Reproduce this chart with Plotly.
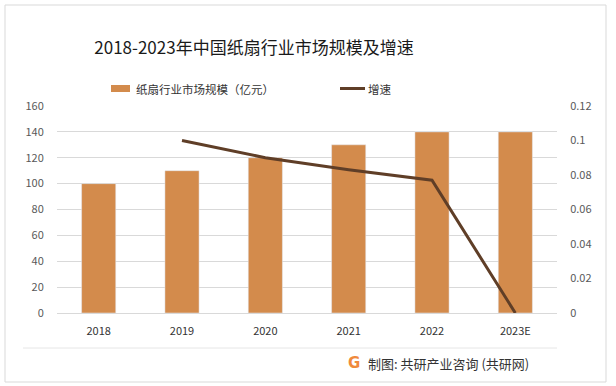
import plotly.graph_objects as go

years = ["2018", "2019", "2020", "2021", "2022", "2023E"]
market_size = [100, 110, 120, 130, 140, 140]
growth_years = ["2019", "2020", "2021", "2022", "2023E"]
growth = [0.1, 0.09, 0.083, 0.077, 0.0]
left_ticks = [0, 20, 40, 60, 80, 100, 120, 140, 160]
right_ticks = [0, 0.02, 0.04, 0.06, 0.08, 0.1, 0.12]
right_tick_text = ["0", "0.02", "0.04", "0.06", "0.08", "0.1", "0.12"]

W, H = 616, 386
L, R, T, B = 57, 59, 106, 73
PW, PH = W - L - R, H - T - B

def px(x):
    return (x - L) / PW

def py(y):
    return (H - B - y) / PH

font = "Microsoft YaHei, Noto Sans CJK SC, sans-serif"
clear = "rgba(0,0,0,0)"

fig = go.Figure()
fig.add_trace(go.Bar(
    x=years, y=market_size, name="纸扇行业市场规模（亿元）",
    marker=dict(color="#D38B4C"), width=0.41, yaxis="y", showlegend=False,
))
fig.add_trace(go.Scatter(
    x=growth_years, y=growth, name="增速", mode="lines",
    line=dict(color="#5F3E27", width=3), yaxis="y2", showlegend=False,
))
fig.add_annotation(
    x="2022", y=growth[3], xref="x", yref="y2", text="7.7%",
    showarrow=False, xanchor="left", yanchor="middle", xshift=8, yshift=-1,
    font=dict(size=11, color="#404040"),
)

shapes = [
    dict(type="rect", xref="paper", yref="paper",
         x0=px(5), x1=px(606), y0=py(382), y1=py(5),
         line=dict(color="#D9D9D9", width=1), fillcolor=clear, layer="below"),
    dict(type="line", xref="paper", yref="paper",
         x0=px(23), x1=px(557), y0=py(348), y1=py(348),
         line=dict(color="#E6E6E6", width=1)),
    # legend swatches
    dict(type="rect", xref="paper", yref="paper",
         x0=px(111), x1=px(130), y0=py(92), y1=py(85),
         line=dict(width=0), fillcolor="#D38B4C"),
    dict(type="line", xref="paper", yref="paper",
         x0=px(340), x1=px(365), y0=py(88.5), y1=py(88.5),
         line=dict(color="#5F3E27", width=3)),
]

fig.update_layout(
    width=W, height=H,
    margin=dict(l=L, r=R, t=T, b=B),
    paper_bgcolor="white", plot_bgcolor="white",
    font=dict(family=font, color="#595959", size=11),
    title=dict(text="2018-2023年中国纸扇行业市场规模及增速", x=254 / W, xanchor="center",
               y=1 - 48 / H, yanchor="middle",
               font=dict(size=17, color="#1a1a1a", family=font)),
    showlegend=False,
    xaxis=dict(type="category", categoryorder="array", categoryarray=years,
               range=[-0.5, 5.5], showgrid=False, showline=True, linecolor="#D9D9D9",
               linewidth=1, ticks="outside", ticklen=8, tickcolor=clear,
               tickfont=dict(size=11, color="#333333")),
    yaxis=dict(range=[0, 160], tickvals=left_ticks, showgrid=True, gridcolor="#D9D9D9",
               gridwidth=1, zeroline=False, ticks="outside", ticklen=10, tickcolor=clear,
               tickfont=dict(size=11, color="#595959")),
    yaxis2=dict(range=[0, 0.12], tickvals=right_ticks, ticktext=right_tick_text,
                overlaying="y", side="right", showgrid=False, zeroline=False,
                ticks="outside", ticklen=10, tickcolor=clear,
                tickfont=dict(size=11, color="#595959")),
    shapes=shapes,
)

fig.add_annotation(xref="paper", yref="paper", x=px(134), y=py(88.5),
                   text="纸扇行业市场规模（亿元）", showarrow=False, xanchor="left",
                   yanchor="middle", font=dict(size=11.5, color="#333333"))
fig.add_annotation(xref="paper", yref="paper", x=px(366), y=py(88.5),
                   text="增速", showarrow=False, xanchor="left",
                   yanchor="middle", font=dict(size=11.5, color="#333333"))
fig.add_annotation(
    xref="paper", yref="paper", x=px(346), y=py(363),
    text="<b>G</b>", showarrow=False, xanchor="left", yanchor="middle",
    font=dict(size=15, color="#F08A3C", family="DejaVu Sans"),
)
fig.add_annotation(
    xref="paper", yref="paper", x=px(366), y=py(363),
    text="制图: 共研产业咨询 (共研网)", showarrow=False, xanchor="left", yanchor="middle",
    font=dict(size=13, color="#333333"),
)

fig.write_html("out.html", config={"displayModeBar": False},
               post_script="document.body.style.margin='0';document.body.style.padding='0';")
